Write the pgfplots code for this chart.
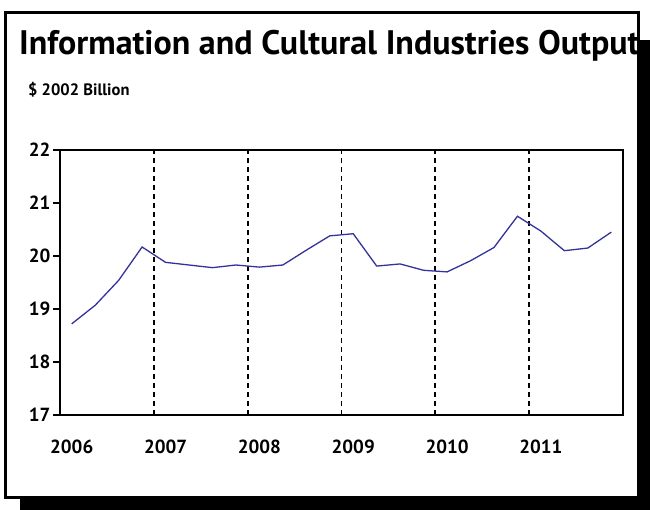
\documentclass[border=0pt]{standalone}
\usepackage{pgfplots}
\pgfplotsset{compat=1.18}
\usepackage{fontspec}
\setmainfont{PT Sans}
\definecolor{serie}{RGB}{51,51,153}
\begin{document}
\begin{tikzpicture}[x=1pt,y=1pt]
\useasboundingbox (0,0) rectangle (650,510);
\fill[black] (20,0) rectangle (650,470);
\filldraw[fill=white,draw=black,line width=3pt] (5.5,12.5) rectangle (638.5,497);
\begin{scope}
\clip (0,0) rectangle (637,510);
\node[anchor=base west,inner sep=0pt,font=\fontsize{34}{36}\selectfont\bfseries] at (19,455) {Information and Cultural Industries Output};
\end{scope}
\node[anchor=base west,inner sep=0pt,font=\fontsize{16.5}{18}\selectfont\bfseries] at (28,414) {\$ 2002 Billion};
\begin{axis}[
  at={(60pt,95pt)}, anchor=south west,
  scale only axis, width=563pt, height=265pt,
  xmin=-0.5, xmax=23.5, ymin=17, ymax=22,
  ytick={17,18,19,20,21,22},
  yticklabels={\textbf{17},\textbf{18},\textbf{19},\textbf{20},\textbf{21},\textbf{22}},
  xtick={0,4,8,12,16,20},
  xticklabels={\textbf{2006},\textbf{2007},\textbf{2008},\textbf{2009},\textbf{2010},\textbf{2011}},
  extra x ticks={3.5,7.5,11.5,15.5,19.5,23.5},
  extra x tick labels={},
  extra x tick style={grid=major, major tick length=0pt},
  major grid style={black, line width=1.8pt, dash pattern=on 4.5pt off 4.5pt},
  axis line style={black, line width=1.6pt},
  tick style={black, line width=1.2pt},
  ytick pos=left, xtick pos=bottom,
  tick align=outside,
  major tick length=7pt,
  xtick style={draw=none},
  tick label style={font=\fontsize{19}{21}\selectfont\bfseries},
  yticklabel style={xshift=1pt},
  xticklabel style={yshift=-14pt},
  clip=false,
]
\addplot[serie, line width=1.3pt] coordinates {
(0,18.72) (1,19.07) (2,19.54) (3,20.17) (4,19.88) (5,19.83) (6,19.78) (7,19.83)
(8,19.79) (9,19.83) (10,20.11) (11,20.38) (12,20.42) (13,19.81) (14,19.85) (15,19.73)
(16,19.70) (17,19.91) (18,20.16) (19,20.75) (20,20.47) (21,20.10) (22,20.15) (23,20.45)
};
\end{axis}
\end{tikzpicture}
\end{document}
